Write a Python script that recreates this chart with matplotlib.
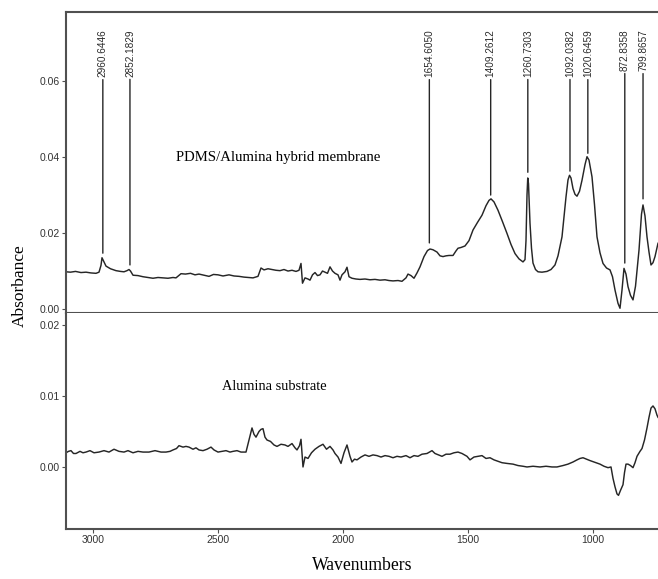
import matplotlib
matplotlib.use("Agg")
import matplotlib.pyplot as plt

# FTIR spectra (wavenumber in cm-1, absorbance)
hybrid_wn = [3108, 3090, 3070, 3048, 3028, 3008, 2988, 2976, 2968, 2964, 2956, 2948, 2930, 2908,
             2890, 2876, 2864, 2856, 2850, 2840, 2820, 2800, 2780, 2760, 2740, 2720, 2700, 2680,
             2668, 2648, 2630, 2610, 2592, 2576, 2556, 2536, 2518, 2500, 2480, 2456, 2436, 2416,
             2396, 2376, 2360, 2340, 2328, 2316, 2300, 2284, 2268, 2252, 2236, 2220, 2204, 2188,
             2176, 2168, 2162, 2152, 2140, 2132, 2122, 2112, 2102, 2092, 2082, 2072, 2062, 2052,
             2042, 2032, 2020, 2012, 2004, 1992, 1984, 1976, 1964, 1948, 1932, 1912, 1892, 1872,
             1852, 1832, 1816, 1800, 1780, 1764, 1748, 1740, 1728, 1716, 1704, 1692, 1676, 1662,
             1652, 1640, 1624, 1612, 1600, 1588, 1576, 1560, 1548, 1540, 1528, 1512, 1496, 1480,
             1462, 1444, 1428, 1416, 1408, 1396, 1380, 1362, 1344, 1328, 1312, 1296, 1280, 1272,
             1268, 1264, 1261, 1258, 1256, 1252, 1246, 1240, 1230, 1220, 1204, 1184, 1168, 1152,
             1140, 1124, 1108, 1100, 1094, 1088, 1080, 1072, 1064, 1054, 1044, 1032, 1024, 1016,
             1004, 994, 984, 972, 960, 946, 932, 922, 912, 900, 892, 884, 876, 868,
             860, 850, 840, 830, 816, 806, 800, 792, 784, 776, 768, 760, 752, 740]
hybrid_abs = [0.0098, 0.0097, 0.0099, 0.0096, 0.0097, 0.0095, 0.0094, 0.0097, 0.0115, 0.0135, 0.0124, 0.0113, 0.0106, 0.0101,
              0.0099, 0.0098, 0.0101, 0.0104, 0.0100, 0.0089, 0.0088, 0.0085, 0.0083, 0.0081, 0.0083, 0.0082, 0.0081, 0.0083,
              0.0082, 0.0093, 0.0092, 0.0094, 0.0090, 0.0092, 0.0089, 0.0086, 0.0091, 0.0090, 0.0087, 0.0090, 0.0087, 0.0086,
              0.0084, 0.0083, 0.0082, 0.0086, 0.0108, 0.0103, 0.0106, 0.0104, 0.0102, 0.0101, 0.0104, 0.0100, 0.0102, 0.0099,
              0.0102, 0.0120, 0.0068, 0.0082, 0.0079, 0.0076, 0.0090, 0.0096, 0.0088, 0.0090, 0.0100, 0.0097, 0.0094, 0.0111,
              0.0100, 0.0094, 0.0090, 0.0076, 0.0090, 0.0098, 0.0110, 0.0085, 0.0081, 0.0079, 0.0078, 0.0079, 0.0077, 0.0078,
              0.0076, 0.0077, 0.0075, 0.0074, 0.0075, 0.0073, 0.0082, 0.0092, 0.0088, 0.0081, 0.0095, 0.0111, 0.0138, 0.0154,
              0.0158, 0.0156, 0.0150, 0.0140, 0.0138, 0.0140, 0.0141, 0.0141, 0.0153, 0.0160, 0.0162, 0.0166, 0.0180, 0.0208,
              0.0228, 0.0247, 0.0272, 0.0286, 0.0290, 0.0282, 0.0260, 0.0230, 0.0199, 0.0170, 0.0146, 0.0132, 0.0124, 0.0130,
              0.0180, 0.0300, 0.0345, 0.0330, 0.0295, 0.0226, 0.0160, 0.0121, 0.0104, 0.0098, 0.0097, 0.0099, 0.0104, 0.0116,
              0.0140, 0.0190, 0.0295, 0.0340, 0.0352, 0.0345, 0.0317, 0.0302, 0.0297, 0.0310, 0.0339, 0.0380, 0.0401, 0.0392,
              0.0348, 0.0275, 0.0190, 0.0148, 0.0120, 0.0108, 0.0103, 0.0085, 0.0050, 0.0015, 0.0002, 0.0050, 0.0107, 0.0092,
              0.0059, 0.0036, 0.0024, 0.0060, 0.0155, 0.0250, 0.0274, 0.0245, 0.0190, 0.0150, 0.0116, 0.0122, 0.0138, 0.0173]

substrate_wn = [3108, 3098, 3088, 3078, 3068, 3052, 3040, 3028, 3012, 2996, 2976, 2956, 2936, 2916,
                2896, 2876, 2860, 2840, 2820, 2800, 2776, 2752, 2728, 2708, 2692, 2680, 2666, 2656,
                2640, 2628, 2616, 2600, 2588, 2576, 2560, 2544, 2528, 2516, 2500, 2484, 2468, 2452,
                2440, 2424, 2408, 2388, 2376, 2364, 2356, 2348, 2336, 2328, 2320, 2312, 2304, 2290,
                2276, 2264, 2248, 2232, 2220, 2204, 2192, 2184, 2174, 2168, 2164, 2160, 2152, 2140,
                2126, 2112, 2096, 2080, 2066, 2052, 2040, 2032, 2020, 2008, 1996, 1984, 1972, 1964,
                1954, 1944, 1928, 1912, 1896, 1880, 1864, 1848, 1832, 1816, 1800, 1784, 1768, 1748,
                1732, 1716, 1700, 1684, 1664, 1654, 1644, 1632, 1618, 1604, 1588, 1572, 1556, 1540,
                1524, 1504, 1492, 1476, 1460, 1444, 1428, 1412, 1396, 1380, 1364, 1344, 1320, 1300,
                1280, 1264, 1240, 1212, 1188, 1164, 1144, 1120, 1100, 1080, 1064, 1052, 1040, 1026,
                1012, 996, 972, 956, 940, 928, 920, 912, 904, 898, 890, 880, 874, 868,
                860, 850, 840, 832, 824, 812, 804, 794, 784, 776, 768, 760, 752, 744, 740]
substrate_abs = [0.0020, 0.0022, 0.0023, 0.0019, 0.0019, 0.0022, 0.0020, 0.0021, 0.0023, 0.0020, 0.0021, 0.0023, 0.0021, 0.0025,
                 0.0022, 0.0021, 0.0023, 0.0020, 0.0022, 0.0021, 0.0021, 0.0023, 0.0021, 0.0021, 0.0022, 0.0024, 0.0026, 0.0030,
                 0.0028, 0.0029, 0.0028, 0.0025, 0.0027, 0.0024, 0.0023, 0.0025, 0.0028, 0.0024, 0.0021, 0.0022, 0.0023, 0.0021,
                 0.0022, 0.0023, 0.0021, 0.0021, 0.0038, 0.0055, 0.0046, 0.0042, 0.0050, 0.0053, 0.0054, 0.0042, 0.0038, 0.0036,
                 0.0031, 0.0029, 0.0032, 0.0031, 0.0029, 0.0033, 0.0027, 0.0024, 0.0030, 0.0039, 0.0020, 0.0000, 0.0014, 0.0012,
                 0.0020, 0.0025, 0.0029, 0.0032, 0.0025, 0.0029, 0.0024, 0.0019, 0.0014, 0.0005, 0.0020, 0.0031, 0.0015, 0.0007,
                 0.0011, 0.0010, 0.0014, 0.0017, 0.0015, 0.0017, 0.0016, 0.0014, 0.0016, 0.0015, 0.0013, 0.0015, 0.0014, 0.0016,
                 0.0013, 0.0016, 0.0015, 0.0018, 0.0019, 0.0021, 0.0023, 0.0019, 0.0017, 0.0015, 0.0018, 0.0018, 0.0020, 0.0021,
                 0.0019, 0.0015, 0.0010, 0.0014, 0.0015, 0.0016, 0.0012, 0.0013, 0.0010, 0.0008, 0.0006, 0.0005, 0.0004, 0.0002,
                 0.0001, 0.0000, 0.0001, 0.0000, 0.0001, 0.0000, 0.0000, 0.0002, 0.0004, 0.0007, 0.0010, 0.0012, 0.0013, 0.0011,
                 0.0009, 0.0007, 0.0004, 0.0001, -0.0001, 0.0000, -0.0016, -0.0028, -0.0038, -0.0040, -0.0033, -0.0025, -0.0008, 0.0004,
                 0.0004, 0.0002, -0.0001, 0.0006, 0.0015, 0.0022, 0.0026, 0.0038, 0.0055, 0.0070, 0.0083, 0.0086, 0.0082, 0.0073, 0.0070]

# picked peaks on the hybrid membrane spectrum
peak_labels = ["2960.6446", "2852.1829", "1654.6050", "1409.2612", "1260.7303",
               "1092.0382", "1020.6459", "872.8358", "799.8657"]
peak_wn = [2960.6446, 2852.1829, 1654.6050, 1409.2612, 1260.7303,
           1092.0382, 1020.6459, 872.8358, 799.8657]
peak_abs = [0.0147, 0.0116, 0.0174, 0.0300, 0.0360, 0.0363, 0.0410, 0.0121, 0.0290]

line_col = "#262626"
frame_col = "#505050"
serif = "Liberation Serif"
sans = "Liberation Sans"

fig = plt.figure(figsize=(6.58, 5.79), dpi=100)
ax1 = fig.add_axes([0.1003, 0.4594, 0.8997, 0.5199])
ax2 = fig.add_axes([0.1003, 0.0864, 0.8997, 0.3730])

ax1.plot(hybrid_wn, hybrid_abs, color=line_col, lw=1.05)
ax2.plot(substrate_wn, substrate_abs, color=line_col, lw=1.05)

for ax in (ax1, ax2):
    ax.set_xlim(3108, 740)
    ax.spines["right"].set_visible(False)
    for s in ax.spines.values():
        s.set_color(frame_col)
        s.set_linewidth(1.5)
    ax.tick_params(axis="both", direction="out", length=3, width=0.8,
                   color=frame_col, labelsize=7.5, labelcolor="#333333", pad=1.5)

ax1.set_ylim(-0.00105, 0.0782)
ax1.set_yticks([0.00, 0.02, 0.04, 0.06])
ax1.set_yticklabels(["0.00", "0.02", "0.04", "0.06"], fontfamily=sans)
ax1.tick_params(axis="x", bottom=False, labelbottom=False)

ax2.set_ylim(-0.00874, 0.0217)
ax2.set_yticks([0.00, 0.01, 0.02])
ax2.set_yticklabels(["0.00", "0.01", "0.02"], fontfamily=sans)
ax2.set_xticks([3000, 2500, 2000, 1500, 1000])
ax2.set_xticklabels(["3000", "2500", "2000", "1500", "1000"], fontfamily=sans)
ax2.spines["top"].set_visible(False)

for lbl, wn, top in zip(peak_labels, peak_wn, peak_abs):
    ax1.annotate(lbl, xy=(wn, top), xytext=(wn, 0.0737), rotation=90,
                 ha="center", va="top", fontsize=7.2, fontfamily=sans, color="#2b2b2b",
                 arrowprops=dict(arrowstyle="-", lw=1.0, color=line_col,
                                 shrinkA=0, shrinkB=0))

ax1.text(2668, 0.040, "PDMS/Alumina hybrid membrane", fontsize=10.6,
         fontfamily=serif, ha="left", va="center")
ax2.text(2484, 0.0113, "Alumina substrate", fontsize=10.4,
         fontfamily=serif, ha="left", va="center")

fig.text(20 / 658, 1 - 286 / 579, "Absorbance", rotation=90, fontsize=12.5,
         fontfamily=serif, ha="center", va="center")
fig.text(362 / 658, 1 - 566 / 579, "Wavenumbers", fontsize=12.7,
         fontfamily=serif, ha="center", va="center")

fig.savefig("out.png", dpi=100)
